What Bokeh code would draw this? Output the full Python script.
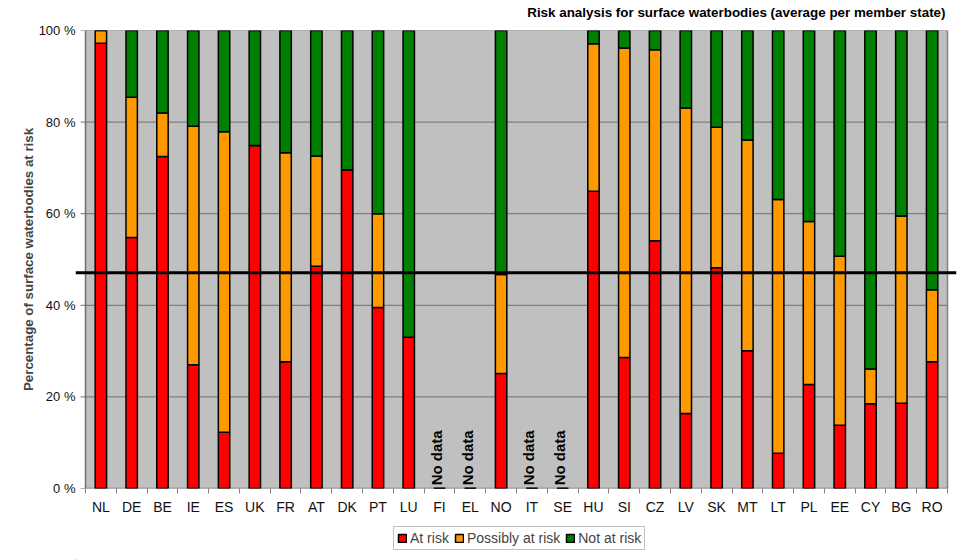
import math
from bokeh.plotting import figure
from bokeh.layouts import column
from bokeh.models import (Range1d, FixedTicker, Span, Legend, LegendItem,
                          ColumnDataSource, Label)
from bokeh.core.properties import value
from bokeh.embed import file_html
from bokeh.resources import INLINE

# ---------------- data ----------------
countries = ["NL", "DE", "BE", "IE", "ES", "UK", "FR", "AT", "DK", "PT", "LU",
             "FI", "EL", "NO", "IT", "SE", "HU", "SI", "CZ", "LV", "SK", "MT",
             "LT", "PL", "EE", "CY", "BG", "RO"]
at_risk = [97.2, 54.8, 72.5, 27.0, 12.3, 74.9, 27.7, 48.5, 69.6, 39.5, 33.0,
           0, 0, 25.1, 0, 0, 64.9, 28.6, 54.1, 16.4, 48.2, 30.1,
           7.7, 22.7, 13.8, 18.5, 18.6, 27.7]
possibly_at_risk = [2.8, 30.6, 9.5, 52.1, 65.6, 0, 45.6, 24.1, 0, 20.5, 0,
                    0, 0, 21.6, 0, 0, 32.2, 67.6, 41.7, 66.7, 30.7, 46.0,
                    55.4, 35.6, 36.9, 7.6, 40.9, 15.7]
not_at_risk = [0, 14.6, 18.0, 20.9, 22.1, 25.1, 26.7, 27.4, 30.4, 40.0, 67.0,
               0, 0, 53.3, 0, 0, 2.9, 3.8, 4.2, 16.9, 21.1, 23.9,
               36.9, 41.7, 49.3, 73.9, 40.5, 56.6]
no_data = ["FI", "EL", "IT", "SE"]
series_names = ["At risk", "Possibly at risk", "Not at risk"]
series_colors = ["#FF0000", "#FF9900", "#008000"]
y_ticks = [0, 20, 40, 60, 80, 100]
y_tick_labels = ["0 %", "20 %", "40 %", "60 %", "80 %", "100 %"]
threshold = 47.1
title_text = "Risk analysis for surface waterbodies (average per member state)"
y_label = "Percentage of surface waterbodies at risk"

n = len(countries)
xs = [i + 0.5 for i in range(n)]
FONT = "Liberation Sans"
BL, BR = 75, 6           # left / right borders (px)
FRAME_W = 962 - BL - BR


def strip(height):
    f = figure(width=962, height=height, x_range=Range1d(0, FRAME_W),
               y_range=Range1d(0, height), output_backend="svg",
               toolbar_location=None, min_border_left=BL, min_border_right=BR,
               min_border_top=0, min_border_bottom=0)
    f.axis.visible = False
    f.xgrid.visible = False
    f.ygrid.visible = False
    f.outline_line_color = None
    f.background_fill_color = "white"
    f.border_fill_color = "white"
    return f


# ---------------- title strip ----------------
tf = strip(22)
tf.add_layout(Label(x=870, y=10.5, text=title_text, text_align="right",
                    text_baseline="middle", text_font=FONT,
                    text_font_style="bold", text_font_size="13.4px",
                    text_color="black"))

# ---------------- main chart ----------------
p = figure(width=962, height=498,
           x_range=Range1d(-0.3248, n + 0.2923), y_range=Range1d(0, 100),
           output_backend="svg", toolbar_location=None,
           min_border_left=BL, min_border_right=BR,
           min_border_top=8, min_border_bottom=32)
p.outline_line_color = None
p.background_fill_color = "white"
p.border_fill_color = "white"
p.xgrid.visible = False
p.ygrid.visible = False

# plot area background
p.quad(left=[0], right=[n], bottom=[0], top=[100],
       fill_color="#C0C0C0", line_color=None)
# gridlines
grid_y = [t for t in y_ticks if t > 0]
p.segment(x0=[0] * len(grid_y), x1=[n] * len(grid_y), y0=grid_y, y1=grid_y,
          line_color="#707070", line_width=1)
# right border
p.segment(x0=[n], x1=[n], y0=[0], y1=[100], line_color="#808080", line_width=1.5)
# left axis line + ticks
p.segment(x0=[0], x1=[0], y0=[0], y1=[100], line_color="#707070", line_width=1.5)
p.segment(x0=[-0.16] * len(y_ticks), x1=[0] * len(y_ticks), y0=y_ticks, y1=y_ticks,
          line_color="#707070", line_width=1)
# bottom axis line
p.segment(x0=[0], x1=[n], y0=[0], y1=[0], line_color="#707070", line_width=1.5)

src = ColumnDataSource(dict(x=xs, at=at_risk, pos=possibly_at_risk, nr=not_at_risk))
rs = p.vbar_stack(["at", "pos", "nr"], x="x", width=0.37, source=src,
                  fill_color=series_colors, line_color="black", line_width=1.5)

# no data labels
nd_x = [countries.index(c) + 0.5 for c in no_data]
p.text(x=nd_x, y=[0.7] * len(nd_x), text=["No data"] * len(nd_x),
       angle=math.pi / 2, text_font=value(FONT), text_font_style="bold",
       text_font_size="15px", text_align="left", text_baseline="middle",
       text_color="black", x_offset=-3)

p.add_layout(Span(location=threshold, dimension="width", line_color="black",
                  line_width=3))

# x axis
p.xaxis.ticker = FixedTicker(ticks=xs, minor_ticks=list(range(n + 1)))
p.xaxis.major_label_overrides = {x: c for x, c in zip(xs, countries)}
p.xaxis.axis_line_color = None
p.xaxis.major_tick_out = 0
p.xaxis.major_tick_in = 0
p.xaxis.minor_tick_out = 5
p.xaxis.minor_tick_in = 0
p.xaxis.minor_tick_line_color = "#808080"
p.xaxis.major_label_standoff = 5
p.xaxis.major_label_text_font = FONT
p.xaxis.major_label_text_font_size = "14px"
p.xaxis.major_label_text_color = "#111111"

# y axis
p.yaxis.ticker = FixedTicker(ticks=y_ticks)
p.yaxis.major_label_overrides = {t: l for t, l in zip(y_ticks, y_tick_labels)}
p.yaxis.axis_line_color = None
p.yaxis.major_tick_out = 0
p.yaxis.major_tick_in = 0
p.yaxis.minor_tick_line_color = None
p.yaxis.major_label_standoff = 0
p.yaxis.major_label_text_font = FONT
p.yaxis.major_label_text_font_size = "13px"
p.yaxis.major_label_text_color = "#111111"
p.yaxis.axis_label = y_label
p.yaxis.axis_label_text_font = FONT
p.yaxis.axis_label_text_font_style = "bold"
p.yaxis.axis_label_text_font_size = "13.3px"
p.yaxis.axis_label_standoff = 0

# ---------------- legend strip ----------------
lg = strip(40)
swatches = [lg.vbar(x=[-100], top=[-100], bottom=[-101], width=1,
                    fill_color=c, line_color="black", line_width=1.5)
            for c in series_colors]
legend = Legend(items=[LegendItem(label=nm, renderers=[r]) for nm, r in zip(series_names, swatches)],
                orientation="horizontal", location=(318, 10),
                glyph_width=10, glyph_height=10, label_standoff=3, spacing=5,
                padding=3, margin=0, label_height=14,
                label_text_font=FONT, label_text_font_size="14px",
                border_line_color="#808080", border_line_width=1,
                background_fill_color="white", background_fill_alpha=1)
lg.add_layout(legend)

layout = column(tf, p, lg, spacing=0)
open("out.html", "w").write(file_html(layout, INLINE))
